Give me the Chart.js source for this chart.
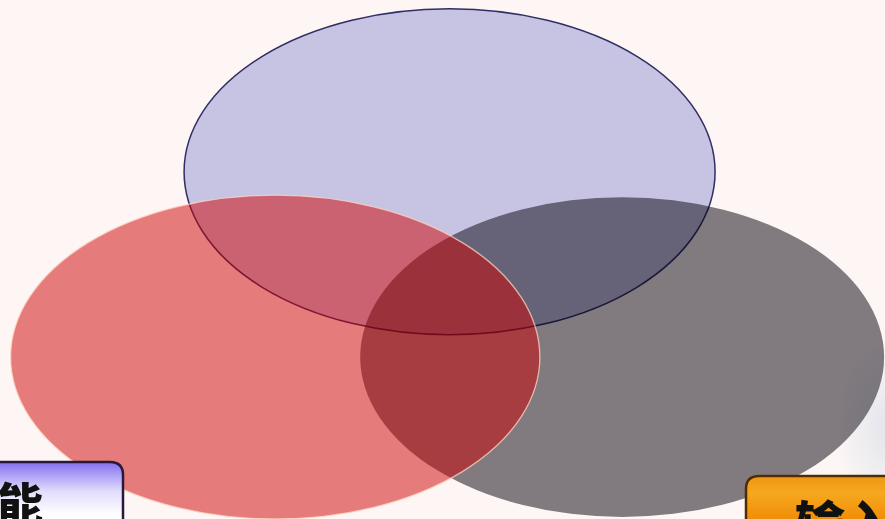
<!DOCTYPE html>
<html>
<head>
<meta charset="utf-8">
<script src="https://cdn.jsdelivr.net/npm/chart.js@4"></script>
<style>
    body { margin: 0; background: #fdf6f4; }
    #container {
        width: 885px; height: 519px; position: relative;
        background: radial-gradient(ellipse 50px 90px at 885px 430px, rgba(220, 226, 234, 0.8), rgba(253, 246, 244, 0) 100%), #fdf6f4;
    }
</style>
</head>
<body>
<div id="container"><canvas id="vennChart"></canvas></div>
<script>
// Tên các tập hợp (thứ tự vẽ: dưới -> trên)
const setNames = ['Trên', 'Phải', 'Trái'];
// Tâm và bán kính của ellipse theo đơn vị của trục (0..100)
const centerX = [50.8, 70.3, 31.1];
const centerY = [66.9, 31.2, 31.2];
const radiusX = [30.0, 29.6, 29.9];
const radiusY = [31.4, 30.8, 31.2];

// Nhãn ở các ô góc dưới
const boxLabels = ['能', '输入'];

const FILLS = ['rgb(198, 196, 226)', 'rgba(6, 0, 12, 0.5)', 'rgba(205, 0, 0, 0.5)'];
const BORDERS = ['rgb(48, 46, 100)', 'rgba(0, 0, 0, 0)', 'rgba(255, 214, 196, 0.75)'];
const BORDER_WIDTHS = [1.5, 0, 1.3];

function roundRect(ctx, x, y, w, h, r) {
    ctx.beginPath();
    ctx.moveTo(x + r, y);
    ctx.lineTo(x + w - r, y);
    ctx.quadraticCurveTo(x + w, y, x + w, y + r);
    ctx.lineTo(x + w, y + h);
    ctx.lineTo(x, y + h);
    ctx.lineTo(x, y + r);
    ctx.quadraticCurveTo(x, y, x + r, y);
    ctx.closePath();
}

const vennPlugin = {
    id: 'venn',
    beforeDatasetsDraw(chart) {
        const ctx = chart.ctx;
        const xs = chart.scales.x;
        const ys = chart.scales.y;
        setNames.forEach((name, i) => {
            const cx = xs.getPixelForValue(centerX[i]);
            const cy = ys.getPixelForValue(centerY[i]);
            const rx = Math.abs(xs.getPixelForValue(centerX[i] + radiusX[i]) - cx);
            const ry = Math.abs(ys.getPixelForValue(centerY[i] + radiusY[i]) - cy);
            ctx.save();
            ctx.beginPath();
            ctx.ellipse(cx, cy, rx, ry, 0, 0, Math.PI * 2);
            ctx.fillStyle = FILLS[i];
            ctx.fill();
            if (BORDER_WIDTHS[i] > 0) {
                ctx.lineWidth = BORDER_WIDTHS[i];
                ctx.strokeStyle = BORDERS[i];
                ctx.stroke();
            }
            ctx.restore();
        });
    },
    afterDatasetsDraw(chart) {
        const ctx = chart.ctx;
        ctx.save();

        // ô bên trái (tím)
        let g = ctx.createLinearGradient(0, 462, 0, 515);
        g.addColorStop(0, 'rgb(132, 110, 240)');
        g.addColorStop(0.55, 'rgb(226, 220, 252)');
        g.addColorStop(1, 'rgb(255, 255, 255)');
        roundRect(ctx, -30, 462, 153, 80, 13);
        ctx.fillStyle = g;
        ctx.fill();
        ctx.lineWidth = 2.5;
        ctx.strokeStyle = 'rgb(40, 24, 60)';
        ctx.stroke();

        // ô bên phải (cam)
        g = ctx.createLinearGradient(0, 476, 0, 519);
        g.addColorStop(0, 'rgb(238, 150, 20)');
        g.addColorStop(0.4, 'rgb(246, 168, 30)');
        g.addColorStop(1, 'rgb(240, 142, 8)');
        roundRect(ctx, 746, 476, 170, 70, 13);
        ctx.fillStyle = g;
        ctx.fill();
        ctx.lineWidth = 2.5;
        ctx.strokeStyle = 'rgb(80, 44, 6)';
        ctx.stroke();

        ctx.fillStyle = '#111';
        ctx.textBaseline = 'top';
        ctx.font = '900 46px "Noto Sans CJK SC"';
        ctx.fillText(boxLabels[0], -3, 481);
        ctx.font = '900 50px "Noto Sans CJK SC"';
        ctx.fillText(boxLabels[1], 795, 499);
        ctx.restore();
    }
};

const CTX = document.getElementById('vennChart');
new Chart(CTX, {
    type: 'scatter',
    data: {
        datasets: [{
            label: 'Venn',
            data: setNames.map((n, i) => ({ x: centerX[i], y: centerY[i] })),
            pointRadius: 0,
            pointHoverRadius: 0
        }]
    },
    options: {
        responsive: true,
        maintainAspectRatio: false,
        animation: false,
        layout: { padding: 0 },
        plugins: { legend: { display: false }, tooltip: { enabled: false } },
        scales: {
            x: { type: 'linear', min: 0, max: 100, display: false },
            y: { type: 'linear', min: 0, max: 100, display: false }
        }
    },
    plugins: [vennPlugin]
});
</script>
</body>
</html>
